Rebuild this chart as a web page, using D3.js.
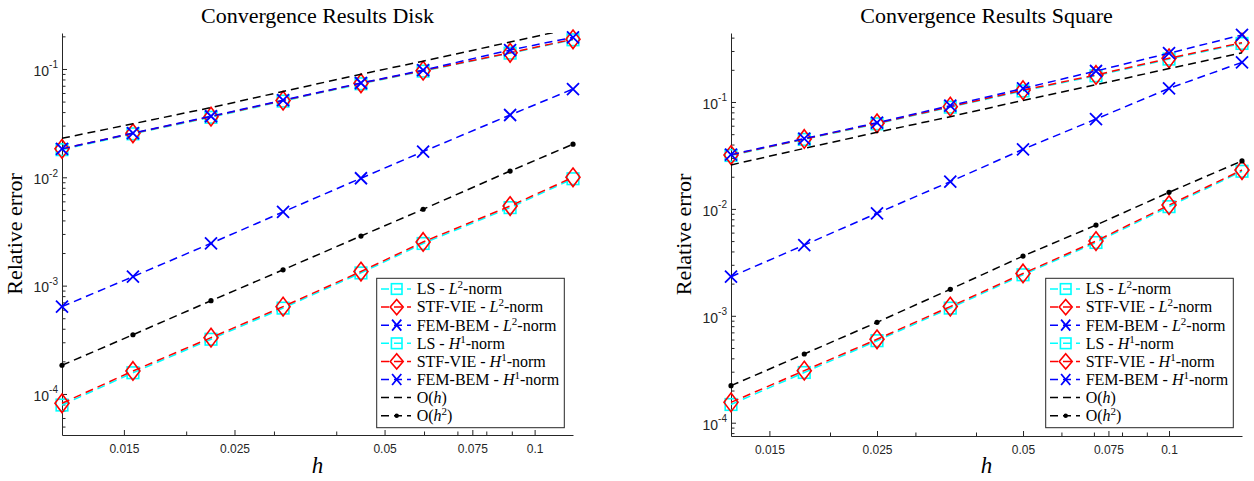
<!DOCTYPE html>
<html>
<head>
<meta charset="utf-8">
<script src="https://cdn.jsdelivr.net/npm/d3@7"></script>
<style>
	body { margin: 0; background: #fff; }
	svg { display: block; }
</style>
</head>
<body>
<main></main>
<script>

// 1. Data

// mesh sizes
const hDisk   = [0.01127, 0.01564, 0.02243, 0.03129, 0.04484, 0.05975, 0.0893, 0.1194];
const hSquare = [0.0125, 0.0177, 0.025, 0.0354, 0.05, 0.0707, 0.1, 0.1414];

// disk errors
const lsL2Disk   = [7.9e-5, 1.57e-4, 3.2e-4, 6.2e-4, 1.31e-3, 2.45e-3, 5.25e-3, 9.7e-3];
const stfL2Disk  = [8.2e-5, 1.63e-4, 3.31e-4, 6.4e-4, 1.35e-3, 2.53e-3, 5.43e-3, 1.0e-2];
const femL2Disk  = [6.4e-4, 1.21e-3, 2.46e-3, 4.79e-3, 9.8e-3, 1.726e-2, 3.76e-2, 6.53e-2];
const lsH1Disk   = [0.0180, 0.0252, 0.0358, 0.0505, 0.0730, 0.0955, 0.1400, 0.186];
const stfH1Disk  = [0.0183, 0.0255, 0.0363, 0.0511, 0.0738, 0.0965, 0.1410, 0.188];
const femH1Disk  = [0.0183, 0.0256, 0.0366, 0.0515, 0.0742, 0.0975, 0.1496, 0.196];
const ohDisk     = [0.0229, 0.0312, 0.0440, 0.0620, 0.0895, 0.1180, 0.1770, 0.2380];
const oh2Disk    = [1.84e-4, 3.52e-4, 7.26e-4, 1.40e-3, 2.87e-3, 5.07e-3, 1.142e-2, 2.02e-2];

// square errors
const lsL2Square  = [1.48e-4, 2.95e-4, 5.85e-4, 1.18e-3, 2.42e-3, 4.85e-3, 1.05e-2, 2.25e-2];
const stfL2Square = [1.55e-4, 3.07e-4, 6.03e-4, 1.22e-3, 2.49e-3, 5.0e-3, 1.086e-2, 2.31e-2];
const femL2Square = [2.32e-3, 4.59e-3, 9.1e-3, 1.80e-2, 3.61e-2, 6.93e-2, 0.134, 0.235];
const lsH1Square  = [0.0316, 0.0447, 0.0625, 0.0895, 0.127, 0.176, 0.252, 0.353];
const stfH1Square = [0.0319, 0.0451, 0.0632, 0.0905, 0.129, 0.179, 0.256, 0.359];
const femH1Square = [0.0322, 0.0455, 0.0640, 0.0925, 0.134, 0.195, 0.286, 0.424];
const ohSquare    = [0.0258, 0.0368, 0.0520, 0.0729, 0.1035, 0.145, 0.2055, 0.289];
const oh2Square   = [2.22e-4, 4.39e-4, 8.69e-4, 1.77e-3, 3.62e-3, 7.06e-3, 1.429e-2, 2.81e-2];

// legend / ticks
const methods   = ["LS", "STF-VIE", "FEM-BEM", "LS", "STF-VIE", "FEM-BEM"];
const normLetter = ["L", "L", "L", "H", "H", "H"];
const normExp    = ["2", "2", "2", "1", "1", "1"];
const rateExp    = ["", "2"];

const xTickValues = [0.015, 0.025, 0.05, 0.075, 0.1];
const xTickLabels = ["0.015", "0.025", "0.05", "0.075", "0.1"];
const xMinorTicks = [0.02, 0.03, 0.04, 0.06, 0.07, 0.08, 0.09];
const yTickValues = [1e-4, 1e-3, 1e-2, 1e-1];
const yTickLabels = ["-4", "-3", "-2", "-1"];

// 2. Dimensions

const dimensions = { width: 1254, height: 481 };

const panels = [
	{
		title: "Convergence Results Disk",
		h: hDisk,
		series: [lsL2Disk, stfL2Disk, femL2Disk, lsH1Disk, stfH1Disk, femH1Disk, ohDisk, oh2Disk],
		yDomain: [4.18e-5, 0.2148],
		left: 62, right: 573, top: 33, bottom: 435,
		legendX: 376.7,
	},
	{
		title: "Convergence Results Square",
		h: hSquare,
		series: [lsL2Square, stfL2Square, femL2Square, lsH1Square, stfH1Square, femH1Square, ohSquare, oh2Square],
		yDomain: [7.51e-5, 0.442],
		left: 731, right: 1242, top: 33, bottom: 436,
		legendX: 1045.7,
	},
];

const colors  = ["#00ffff", "#ff0000", "#0000ff", "#00ffff", "#ff0000", "#0000ff", "#000000", "#000000"];
const markers = ["square", "diamond", "x", "square", "diamond", "x", null, "dot"];

const axisColor = "#262626";
const serif = "'Liberation Serif', 'Times New Roman', serif";
const sans = "'Liberation Sans', Arial, sans-serif";

// 3. Draw canvas

const canvas = d3.select("main")
	.append("svg")
	.attr("width", dimensions.width)
	.attr("height", dimensions.height);

function drawMarker(g, type, color, x, y, big) {
	const s = big ? 1 : 0.85;
	if (type === "square") {
		const a = big ? 5.8 : 5.3;
		g.append("rect")
			.attr("x", x - a).attr("y", y - a)
			.attr("width", 2 * a).attr("height", 2 * a)
			.attr("fill", "none").attr("stroke", color).attr("stroke-width", 1.6);
	} else if (type === "diamond") {
		const w = big ? 7 : 6.5, hh = big ? 9.3 : 7.7;
		g.append("path")
			.attr("d", `M${x},${y - hh}L${x + w},${y}L${x},${y + hh}L${x - w},${y}Z`)
			.attr("fill", "none").attr("stroke", color).attr("stroke-width", 1.6);
	} else if (type === "x") {
		const w = big ? 6 : 4.6, hh = big ? 6 : 5.5;
		g.append("path")
			.attr("d", `M${x - w},${y - hh}L${x + w},${y + hh}M${x - w},${y + hh}L${x + w},${y - hh}`)
			.attr("fill", "none").attr("stroke", color).attr("stroke-width", 1.8);
	} else if (type === "dot") {
		g.append("circle")
			.attr("cx", x).attr("cy", y).attr("r", 2.6 * s)
			.attr("fill", color);
	}
}

function legendText(t, i) {
	if (i < 6) {
		t.append("tspan").text(methods[i] + " - ");
		t.append("tspan").attr("font-style", "italic").text(normLetter[i]);
		t.append("tspan").attr("font-size", "11px").attr("dy", -6).text(normExp[i]);
		t.append("tspan").attr("dy", 6).text("-norm");
	} else {
		const k = i - 6;
		t.append("tspan").text("O(");
		t.append("tspan").attr("font-style", "italic").text("h");
		if (rateExp[k]) {
			t.append("tspan").attr("font-size", "11px").attr("dy", -6).text(rateExp[k]);
			t.append("tspan").attr("dy", 6).text(")");
		} else {
			t.append("tspan").text(")");
		}
	}
}

panels.forEach((p, pi) => {

	const graph = canvas.append("g");

	// 4. Scales

	const xScale = d3.scaleLog()
		.domain([p.h[0], p.h[p.h.length - 1]])
		.range([p.left, p.right]);

	const yScale = d3.scaleLog()
		.domain(p.yDomain)
		.range([p.bottom, p.top]);

	const yMinor = [];
	for (let e = -6; e <= 0; e++) {
		for (let k = 2; k <= 9; k++) {
			const v = k * Math.pow(10, e);
			if (v >= p.yDomain[0] && v <= p.yDomain[1]) yMinor.push(v);
		}
	}

	// 5. Axes

	const xMinorAxis = graph.append("g")
		.attr("transform", `translate(0,${p.bottom})`)
		.attr("color", axisColor)
		.call(d3.axisBottom(xScale).tickValues(xMinorTicks).tickSize(-3.5).tickFormat(""));
	xMinorAxis.select(".domain").remove();

	const xAxis = graph.append("g")
		.attr("transform", `translate(0,${p.bottom})`)
		.attr("color", axisColor)
		.call(d3.axisBottom(xScale)
			.tickValues(xTickValues)
			.tickSizeInner(-5).tickSizeOuter(0)
			.tickPadding(9.5)
			.tickFormat((d, i) => xTickLabels[i]));
	xAxis.selectAll("text").attr("font-family", sans).attr("font-size", "12px");
	xAxis.select(".domain").attr("stroke-width", 1);

	const yMinorAxis = graph.append("g")
		.attr("transform", `translate(${p.left},0)`)
		.attr("color", axisColor)
		.call(d3.axisLeft(yScale).tickValues(yMinor).tickSize(-3.5).tickFormat(""));
	yMinorAxis.select(".domain").remove();

	const yAxis = graph.append("g")
		.attr("transform", `translate(${p.left},0)`)
		.attr("color", axisColor)
		.call(d3.axisLeft(yScale)
			.tickValues(yTickValues)
			.tickSizeInner(-5).tickSizeOuter(0)
			.tickPadding(4)
			.tickFormat(""));
	yAxis.selectAll(".tick text").each(function(d, i) {
		const t = d3.select(this)
			.attr("font-family", sans)
			.attr("font-size", "14px")
			.attr("dy", "0.45em");
		t.append("tspan").text("10");
		t.append("tspan").attr("font-size", "10px").attr("dy", "-0.75em").text(yTickLabels[i]);
	});

	// titles and labels

	graph.append("text")
		.attr("x", (p.left + p.right) / 2)
		.attr("y", 23)
		.attr("text-anchor", "middle")
		.attr("font-family", serif)
		.attr("font-size", "22px")
		.text(p.title);

	graph.append("text")
		.attr("x", (p.left + p.right) / 2)
		.attr("y", 473)
		.attr("text-anchor", "middle")
		.attr("font-family", serif)
		.attr("font-style", "italic")
		.attr("font-size", "23px")
		.text("h");

	graph.append("text")
		.attr("transform", `translate(${p.left - 40},${(p.top + p.bottom) / 2}) rotate(-90)`)
		.attr("text-anchor", "middle")
		.attr("font-family", serif)
		.attr("font-size", "22px")
		.text("Relative error");

	// 6. Draw data

	const clipId = "clip" + pi;
	canvas.append("clipPath").attr("id", clipId)
		.append("rect")
		.attr("x", p.left - 2).attr("y", p.top)
		.attr("width", p.right - p.left + 4).attr("height", p.bottom - p.top);

	const line = d3.line()
		.x(d => xScale(d[0]))
		.y(d => yScale(d[1]));

	p.series.forEach((vals, si) => {
		const pts = p.h.map((h, j) => [h, vals[j]]);
		graph.append("path")
			.datum(pts)
			.attr("clip-path", `url(#${clipId})`)
			.attr("d", line)
			.attr("fill", "none")
			.attr("stroke", colors[si])
			.attr("stroke-width", 1.5)
			.attr("stroke-dasharray", "8,5");
		if (markers[si]) {
			const mg = graph.append("g");
			pts.forEach(d => drawMarker(mg, markers[si], colors[si], xScale(d[0]), yScale(d[1]), true));
		}
	});

	// 7. Legend

	const lx = p.legendX, ly = 278.3;
	const legend = graph.append("g");
	legend.append("rect")
		.attr("x", lx).attr("y", ly)
		.attr("width", 187.6).attr("height", 149.4)
		.attr("fill", "#fff")
		.attr("stroke", axisColor)
		.attr("stroke-width", 1);

	colors.forEach((c, i) => {
		const yy = ly + 10.7 + i * 18.1;
		legend.append("line")
			.attr("x1", lx + 4.3).attr("x2", lx + 34.3)
			.attr("y1", yy).attr("y2", yy)
			.attr("stroke", c)
			.attr("stroke-width", 1.5)
			.attr("stroke-dasharray", "8,5");
		if (markers[i]) drawMarker(legend, markers[i], c, lx + 20, yy, false);
		const t = legend.append("text")
			.attr("x", lx + 40)
			.attr("y", yy + 5.3)
			.attr("font-family", serif)
			.attr("font-size", "16px")
			.attr("fill", "#000");
		legendText(t, i);
	});
});

</script>
</body>
</html>
